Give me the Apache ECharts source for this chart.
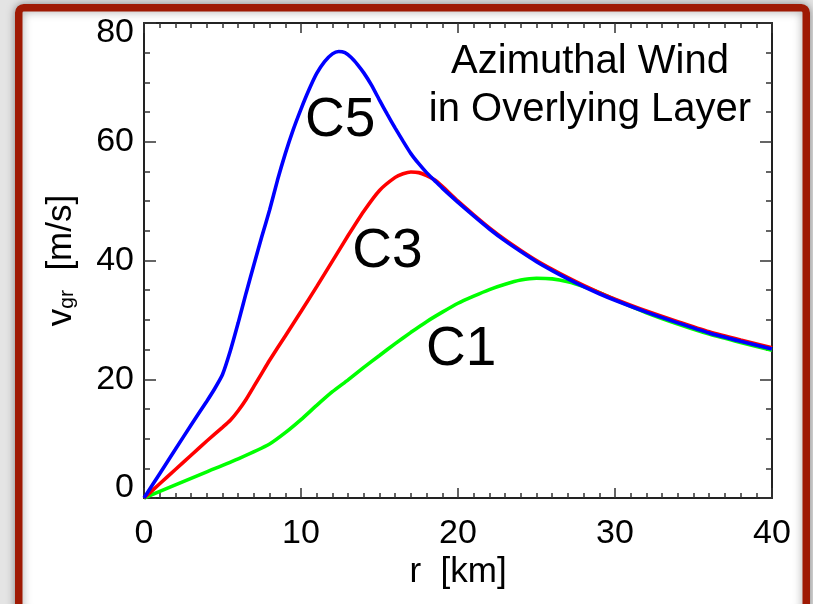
<!DOCTYPE html>
<html>
<head>
<meta charset="utf-8">
<script src="https://cdn.jsdelivr.net/npm/echarts@6/dist/echarts.min.js"></script>
<style>
  html, body { margin: 0; padding: 0; background: #e4e4e4; }
  #chart { width: 813px; height: 604px; }
</style>
</head>
<body>
<div id="chart"></div>
<script>
// Radius [km] and azimuthal gradient wind v_gr [m/s] for the three cases
const c5R = [0, 1, 2, 3, 4, 4.5, 5, 5.5, 6, 6.5, 7, 7.5, 8, 8.5, 9, 9.5, 10, 10.5, 11, 11.5, 12, 12.4, 12.8, 13.2, 13.6, 14, 14.5, 15, 15.5, 16, 16.5, 17, 17.5, 18, 18.5, 19, 20, 21, 22, 23, 24, 25, 26, 27, 28, 29, 30, 32, 34, 36, 38, 40];
const c5V = [0, 4.1, 8.2, 12.3, 16.3, 18.4, 20.8, 24.8, 29.5, 34.5, 39.3, 44, 48.5, 53.5, 58, 62, 65.5, 68.7, 71.5, 73.5, 74.8, 75.2, 75, 74.2, 73, 71.6, 69.5, 67, 64.6, 62.3, 60.1, 58, 56.3, 54.8, 53.5, 52.2, 49.8, 47.5, 45.3, 43.3, 41.5, 39.8, 38.3, 36.9, 35.6, 34.4, 33.3, 31.3, 29.5, 27.8, 26.4, 25.1];

const c3R = [0, 1, 2, 3, 4, 5, 5.5, 6, 6.5, 7, 7.5, 8, 9, 10, 11, 12, 13, 14, 15, 16, 16.5, 17, 17.5, 18, 18.5, 19, 20, 21, 22, 23, 24, 25, 26, 27, 28, 29, 30, 32, 34, 36, 38, 40];
const c3V = [0, 2.4, 4.8, 7.2, 9.6, 11.9, 13.1, 14.7, 16.6, 18.8, 21, 23.2, 27.3, 31.4, 35.6, 39.9, 44.2, 48.3, 51.8, 54, 54.6, 54.9, 54.8, 54.3, 53.6, 52.5, 50, 47.7, 45.5, 43.5, 41.7, 40, 38.5, 37.1, 35.8, 34.6, 33.5, 31.5, 29.7, 28, 26.6, 25.3];

const c1R = [0, 2, 4, 6, 8, 9, 10, 11, 12, 13, 14, 15, 16, 17, 18, 19, 20, 21, 22, 23, 24, 25, 26, 27, 28, 29, 30, 32, 34, 36, 38, 40];
const c1V = [0, 2.2, 4.4, 6.6, 9.1, 11, 13.2, 15.6, 17.9, 19.9, 22, 24, 26, 27.9, 29.7, 31.3, 32.8, 34.0, 35.1, 36.0, 36.7, 37, 36.9, 36.4, 35.6, 34.6, 33.4, 31.2, 29.3, 27.6, 26.2, 24.9];

// Axis ranges and tick steps
const rRange = [0, 40];
const vRange = [0, 80];
const rStep = 10;
const vStep = 20;

const zip = (xs, ys) => xs.map((x, i) => [x, ys[i]]);

const FONT = '"Liberation Sans", Arial, Helvetica, sans-serif';
const INK = '#000';
const AXIS = '#222';
const TICK = '#333';

function xAxisDef(pos, withLabels) {
  return {
    type: 'value', position: pos, min: rRange[0], max: rRange[1], interval: rStep,
    axisLine: { show: true, onZero: false, lineStyle: { color: AXIS, width: 2 } },
    axisTick: { show: true, inside: true, length: 10, lineStyle: { color: TICK, width: 1.5 } },
    minorTick: { show: true, splitNumber: 10, length: 5, lineStyle: { color: TICK, width: 1.5 } },
    splitLine: { show: false }, minorSplitLine: { show: false },
    axisLabel: {
      show: withLabels, fontSize: 34, fontFamily: FONT, color: INK, margin: 19,
      lineHeight: 34, showMinLabel: true, showMaxLabel: true, hideOverlap: false
    },
    name: withLabels ? 'r  [km]' : '', nameLocation: 'middle', nameGap: 56,
    nameMoveOverlap: false,
    nameTextStyle: { fontSize: 35, fontFamily: FONT, color: INK, lineHeight: 36 }
  };
}

function yAxisDef(pos, withLabels) {
  return {
    type: 'value', position: pos, min: vRange[0], max: vRange[1], interval: vStep,
    axisLine: { show: true, onZero: false, lineStyle: { color: AXIS, width: 2 } },
    axisTick: { show: true, inside: true, length: 12, lineStyle: { color: TICK, width: 1.5 } },
    minorTick: { show: true, splitNumber: 4, length: 6, lineStyle: { color: TICK, width: 1.5 } },
    splitLine: { show: false }, minorSplitLine: { show: false },
    axisLabel: {
      show: withLabels, fontSize: 34, fontFamily: FONT, color: INK, margin: 10,
      showMinLabel: true, showMaxLabel: true, hideOverlap: false,
      formatter: v => v === vRange[1] ? '{hi|' + v + '}' : (v === vRange[0] ? '{lo|' + v + '}' : '{n|' + v + '}'),
      rich: {
        n: { fontSize: 34, fontFamily: FONT, color: INK },
        hi: { fontSize: 34, fontFamily: FONT, color: INK, padding: [20, 0, 0, 0] },
        lo: { fontSize: 34, fontFamily: FONT, color: INK, padding: [0, 0, 20, 0] }
      }
    },
    name: withLabels ? '{v|v}{s|gr}{v|  [m/s]}' : '',
    nameLocation: 'middle', nameRotate: 90, nameGap: 66,
    nameMoveOverlap: false,
    nameTextStyle: {
      fontFamily: FONT, color: INK,
      rich: {
        v: { fontSize: 35, fontFamily: FONT, color: INK, lineHeight: 34, verticalAlign: 'top' },
        s: { fontSize: 21, fontFamily: FONT, color: INK, lineHeight: 14, verticalAlign: 'bottom' }
      }
    }
  };
}

function curve(name, color, data, tag, at, z) {
  return {
    name, type: 'line', data, z,
    showSymbol: false, symbol: 'none', smooth: 0.2, clip: false,
    lineStyle: { color, width: 3.6 },
    emphasis: { disabled: true },
    markPoint: {
      symbol: 'circle', symbolSize: 0, silent: true,
      label: { show: true, position: 'inside', formatter: tag, fontSize: 55, fontFamily: FONT, color: INK },
      data: [{ coord: at }]
    }
  };
}

const chart = echarts.init(document.getElementById('chart'), null, { renderer: 'canvas' });
chart.setOption({
  animation: false,
  backgroundColor: 'transparent',
  grid: { left: 144, right: 41, top: 23, bottom: 106, containLabel: false },
  xAxis: [xAxisDef('bottom', true), xAxisDef('top', false)],
  yAxis: [yAxisDef('left', true), yAxisDef('right', false)],
  graphic: [
    {
      type: 'rect', z: -10, silent: true,
      shape: { x: 18.75, y: 7.75, width: 787.5, height: 610, r: 5 },
      style: {
        fill: '#fff', stroke: '#9f1a04', lineWidth: 7.5,
        shadowBlur: 10, shadowColor: 'rgba(0,0,0,0.35)'
      }
    },
    {
      type: 'text', z: 10, silent: true, x: 590, y: 86,
      style: {
        text: 'Azimuthal Wind\nin Overlying Layer',
        font: '40px ' + FONT, fill: INK, textAlign: 'center', textVerticalAlign: 'middle',
        lineHeight: 48
      }
    }
  ],
  series: [
    curve('C1', '#00ff00', zip(c1R, c1V), 'C1', [20.2, 24.9], 2),
    curve('C3', '#ff0000', zip(c3R, c3V), 'C3', [15.5, 41.4], 3),
    curve('C5', '#0000ff', zip(c5R, c5V), 'C5', [12.5, 63.5], 4)
  ]
});
</script>
</body>
</html>
